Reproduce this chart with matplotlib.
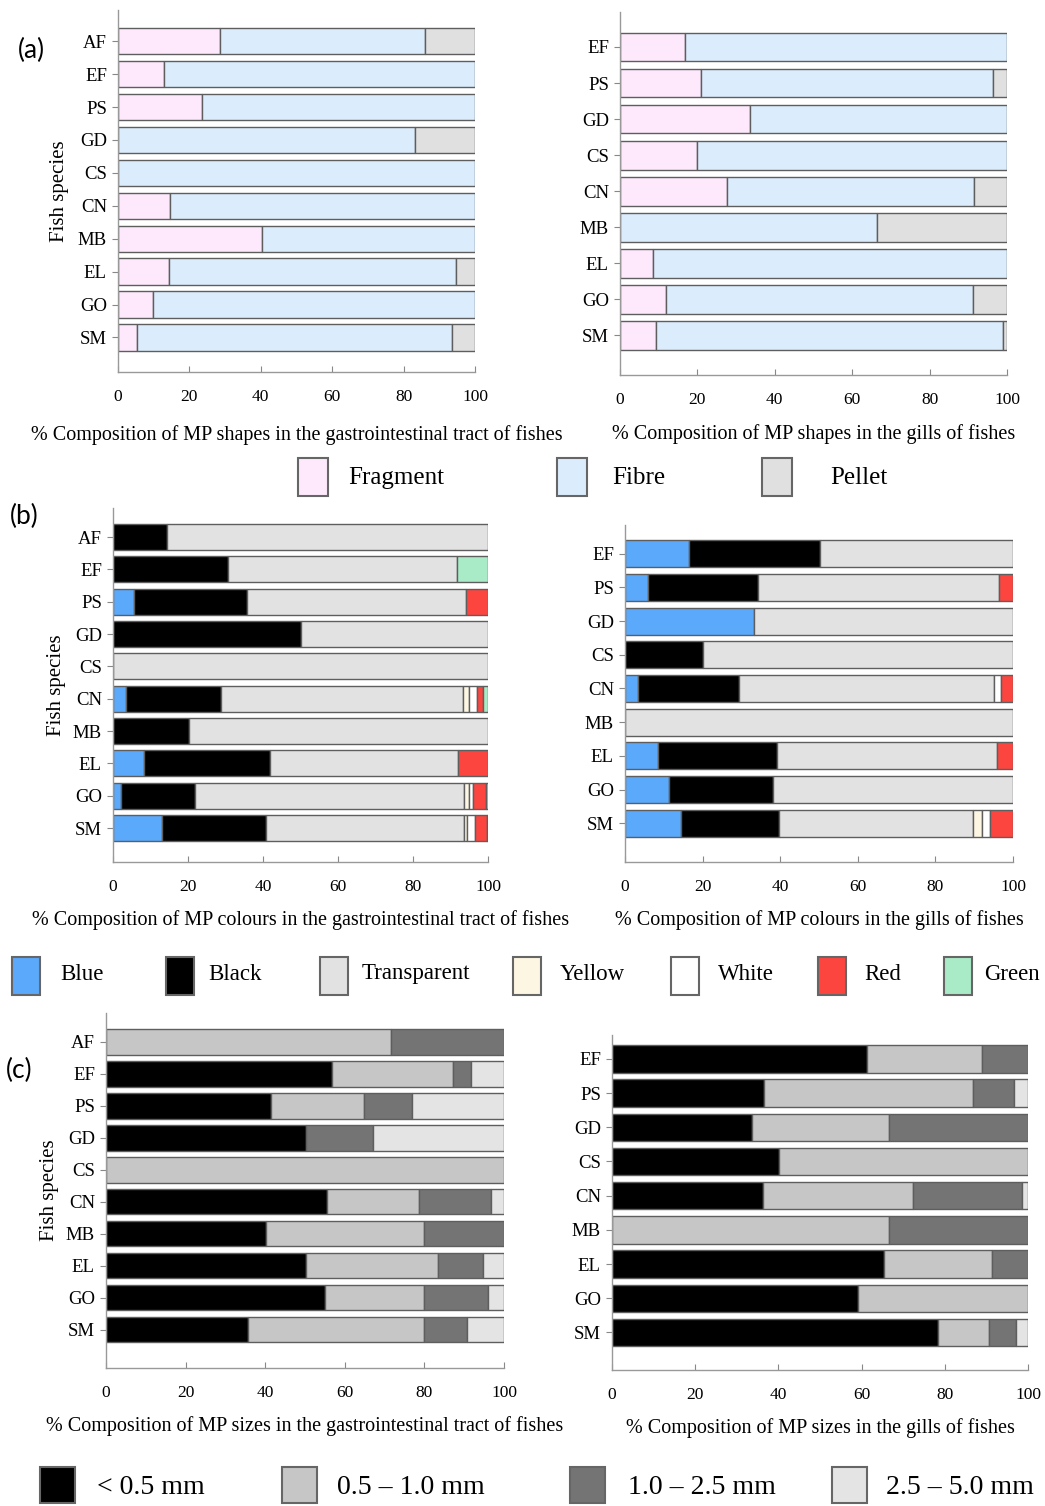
import matplotlib
matplotlib.use('Agg')
import matplotlib.pyplot as plt
from matplotlib.patches import Rectangle
import numpy as np

plt.rcParams['font.family'] = ['Liberation Serif', 'DejaVu Serif']

W, H = 1045, 1506

# ---- data ----
gi_species = ['AF', 'EF', 'PS', 'GD', 'CS', 'CN', 'MB', 'EL', 'GO', 'SM']
gill_species = ['EF', 'PS', 'GD', 'CS', 'CN', 'MB', 'EL', 'GO', 'SM']

# (a) shapes
shape_names = ['Fragment', 'Fibre', 'Pellet']
gi_fragment = [28.7, 13.0, 23.6, 0, 0, 14.5, 40.4, 14.2, 9.8, 5.4]
gi_fibre = [57.3, 87.0, 76.4, 83.3, 100, 85.5, 59.6, 80.5, 90.2, 88.1]
gi_pellet = [14.0, 0, 0, 16.7, 0, 0, 0, 5.3, 0, 6.5]
gill_fragment = [16.8, 20.9, 33.6, 20.0, 27.7, 0, 8.6, 11.8, 9.3]
gill_fibre = [83.2, 75.5, 66.4, 80.0, 63.7, 66.5, 91.4, 79.3, 89.7]
gill_pellet = [0, 3.6, 0, 0, 8.6, 33.5, 0, 8.9, 1.0]

# (b) colours
colour_names = ['Blue', 'Black', 'Transparent', 'Yellow', 'White', 'Red', 'Green']
gi_blue = [0, 0, 5.6, 0, 0, 3.4, 0, 8.2, 2.0, 13.0]
gi_black = [14.4, 30.6, 30.0, 50.2, 0, 25.4, 20.3, 33.7, 19.8, 27.8]
gi_transp = [85.6, 61.0, 58.6, 49.8, 100, 64.4, 79.7, 50.1, 71.8, 52.7]
gi_yellow = [0, 0, 0, 0, 0, 1.6, 0, 0, 1.2, 1.0]
gi_white = [0, 0, 0, 0, 0, 2.2, 0, 0, 1.3, 2.1]
gi_red = [0, 0, 5.8, 0, 0, 1.7, 0, 8.0, 3.3, 3.1]
gi_green = [0, 8.4, 0, 0, 0, 1.3, 0, 0, 0.6, 0.3]
gill_blue = [16.4, 5.9, 33.2, 0, 3.4, 0, 8.6, 11.4, 14.4]
gill_black = [33.8, 28.4, 0, 20.1, 26.1, 0, 30.5, 26.8, 25.2]
gill_transp = [49.8, 62.2, 66.8, 79.9, 65.5, 100, 56.8, 61.8, 50.1]
gill_yellow = [0, 0, 0, 0, 0, 0, 0, 0, 2.2]
gill_white = [0, 0, 0, 0, 1.8, 0, 0, 0, 2.1]
gill_red = [0, 3.5, 0, 0, 3.2, 0, 4.1, 0, 6.0]
gill_green = [0, 0, 0, 0, 0, 0, 0, 0, 0]

# (c) sizes
size_names = ['< 0.5 mm', '0.5 \u2013 1.0 mm', '1.0 \u2013 2.5 mm', '2.5 \u2013 5.0 mm']
gi_s1 = [0, 56.8, 41.4, 50.3, 0, 55.6, 40.2, 50.3, 55.0, 35.7]
gi_s2 = [71.7, 30.4, 23.4, 0, 100, 23.1, 39.8, 33.1, 24.9, 44.1]
gi_s3 = [28.3, 4.4, 12.1, 16.8, 0, 18.1, 20.0, 11.3, 16.2, 10.9]
gi_s4 = [0, 8.4, 23.1, 32.9, 0, 3.2, 0, 5.3, 3.9, 9.3]
gill_s1 = [61.2, 36.6, 33.6, 40.2, 36.4, 0, 65.3, 59.1, 78.3]
gill_s2 = [27.8, 50.1, 32.9, 59.8, 35.9, 66.5, 26.1, 40.9, 12.4]
gill_s3 = [11.0, 9.9, 33.5, 0, 26.3, 33.5, 8.6, 0, 6.4]
gill_s4 = [0, 3.4, 0, 0, 1.4, 0, 0, 0, 2.9]

shape_colors = ['#fde9fb', '#dbedfd', '#e0e0e0']
colour_colors = ['#5aa9fb', '#000000', '#e2e2e2', '#fdf6e2', '#ffffff', '#fd4540', '#a8ebc6']
size_colors = ['#000000', '#c6c6c6', '#747474', '#e4e4e4']

fig = plt.figure(figsize=(W / 100, H / 100), dpi=100)


def px_axes(x0, x1, ytop, ybot):
    return fig.add_axes([x0 / W, 1 - ybot / H, (x1 - x0) / W, (ybot - ytop) / H])


def stacked(ax, species, series, colors, ylim):
    n = len(species)
    y = np.arange(n)[::-1]
    left = np.zeros(n)
    for vals, c in zip(series, colors):
        vals = np.array(vals, dtype=float)
        m = vals > 0
        ax.barh(y[m], vals[m], left=left[m], height=0.8, color=c,
                edgecolor='#5e5e5e', linewidth=1.0)
        left += vals
    ax.set_xlim(0, 100)
    ax.set_ylim(*ylim)
    ax.set_yticks(y)
    ax.set_yticklabels(species, fontsize=13.5)
    ax.set_xticks([0, 20, 40, 60, 80, 100])
    ax.tick_params(axis='x', direction='in', length=4, pad=12, labelsize=12.5, color='#888888')
    ax.tick_params(axis='y', direction='out', length=4, pad=4, color='#888888')
    for s in ['top', 'right']:
        ax.spines[s].set_visible(False)
    for s in ['left', 'bottom']:
        ax.spines[s].set_color('#999999')
        ax.spines[s].set_linewidth(1.0)


def legend_row(items, colors, ybox, hbox, wbox, xs_box, xs_txt, ytxt, fs):
    for lab, c, xb, xt in zip(items, colors, xs_box, xs_txt):
        fig.patches.append(Rectangle((xb / W, 1 - (ybox + hbox) / H), wbox / W, hbox / H,
                                     transform=fig.transFigure, facecolor=c,
                                     edgecolor='#666666', linewidth=1.5))
        fig.text(xt / W, 1 - ytxt / H, lab, fontsize=fs, va='center', ha='left')


# (a) shapes
ax = px_axes(118, 475, 10, 372)
stacked(ax, gi_species, [gi_fragment, gi_fibre, gi_pellet], shape_colors, (-1.05, 9.95))
ax.set_xlabel('% Composition of MP shapes in the gastrointestinal tract of fishes', fontsize=14.5, labelpad=15)
ax.set_ylabel('Fish species', fontsize=15, labelpad=6)
ax = px_axes(620, 1007, 12, 375)
stacked(ax, gill_species, [gill_fragment, gill_fibre, gill_pellet], shape_colors, (-1.1, 8.97))
ax.set_xlabel('% Composition of MP shapes in the gills of fishes', fontsize=14.5, labelpad=12)

# (b) colours
ax = px_axes(113, 488, 508, 862)
stacked(ax, gi_species, [gi_blue, gi_black, gi_transp, gi_yellow, gi_white, gi_red, gi_green],
        colour_colors, (-1.05, 9.9))
ax.set_xlabel('% Composition of MP colours in the gastrointestinal tract of fishes', fontsize=14.5, labelpad=11)
ax.set_ylabel('Fish species', fontsize=15, labelpad=5)
ax = px_axes(625, 1013, 525, 862)
stacked(ax, gill_species, [gill_blue, gill_black, gill_transp, gill_yellow, gill_white, gill_red, gill_green],
        colour_colors, (-1.15, 8.85))
ax.set_xlabel('% Composition of MP colours in the gills of fishes', fontsize=14.5, labelpad=11)

# (c) sizes
ax = px_axes(106, 504, 1013, 1368)
stacked(ax, gi_species, [gi_s1, gi_s2, gi_s3, gi_s4], size_colors, (-1.2, 9.9))
ax.set_xlabel('% Composition of MP sizes in the gastrointestinal tract of fishes', fontsize=14.5, labelpad=11)
ax.set_ylabel('Fish species', fontsize=15, labelpad=5)
ax = px_axes(612, 1028, 1035, 1370)
stacked(ax, gill_species, [gill_s1, gill_s2, gill_s3, gill_s4], size_colors, (-1.1, 8.7))
ax.set_xlabel('% Composition of MP sizes in the gills of fishes', fontsize=14.5, labelpad=11)

# panel letters
for lab, x, y in [('(a)', 18, 50), ('(b)', 10, 516), ('(c)', 6, 1070)]:
    fig.text(x / W, 1 - y / H, lab, fontsize=19, family='Lato', va='center', ha='left')

# legends
legend_row(shape_names, shape_colors, 458, 38, 30, [298, 557, 762], [348, 612, 830], 478, 18)
legend_row(colour_names, colour_colors, 957, 38, 28, [12, 166, 320, 513, 671, 818, 944],
           [60, 208, 362, 560, 718, 864, 984], 974, 16.5)
legend_row(size_names, size_colors, 1467, 36, 35, [40, 282, 570, 832], [97, 337, 628, 886], 1488, 20)

fig.savefig('out.png', dpi=100)
